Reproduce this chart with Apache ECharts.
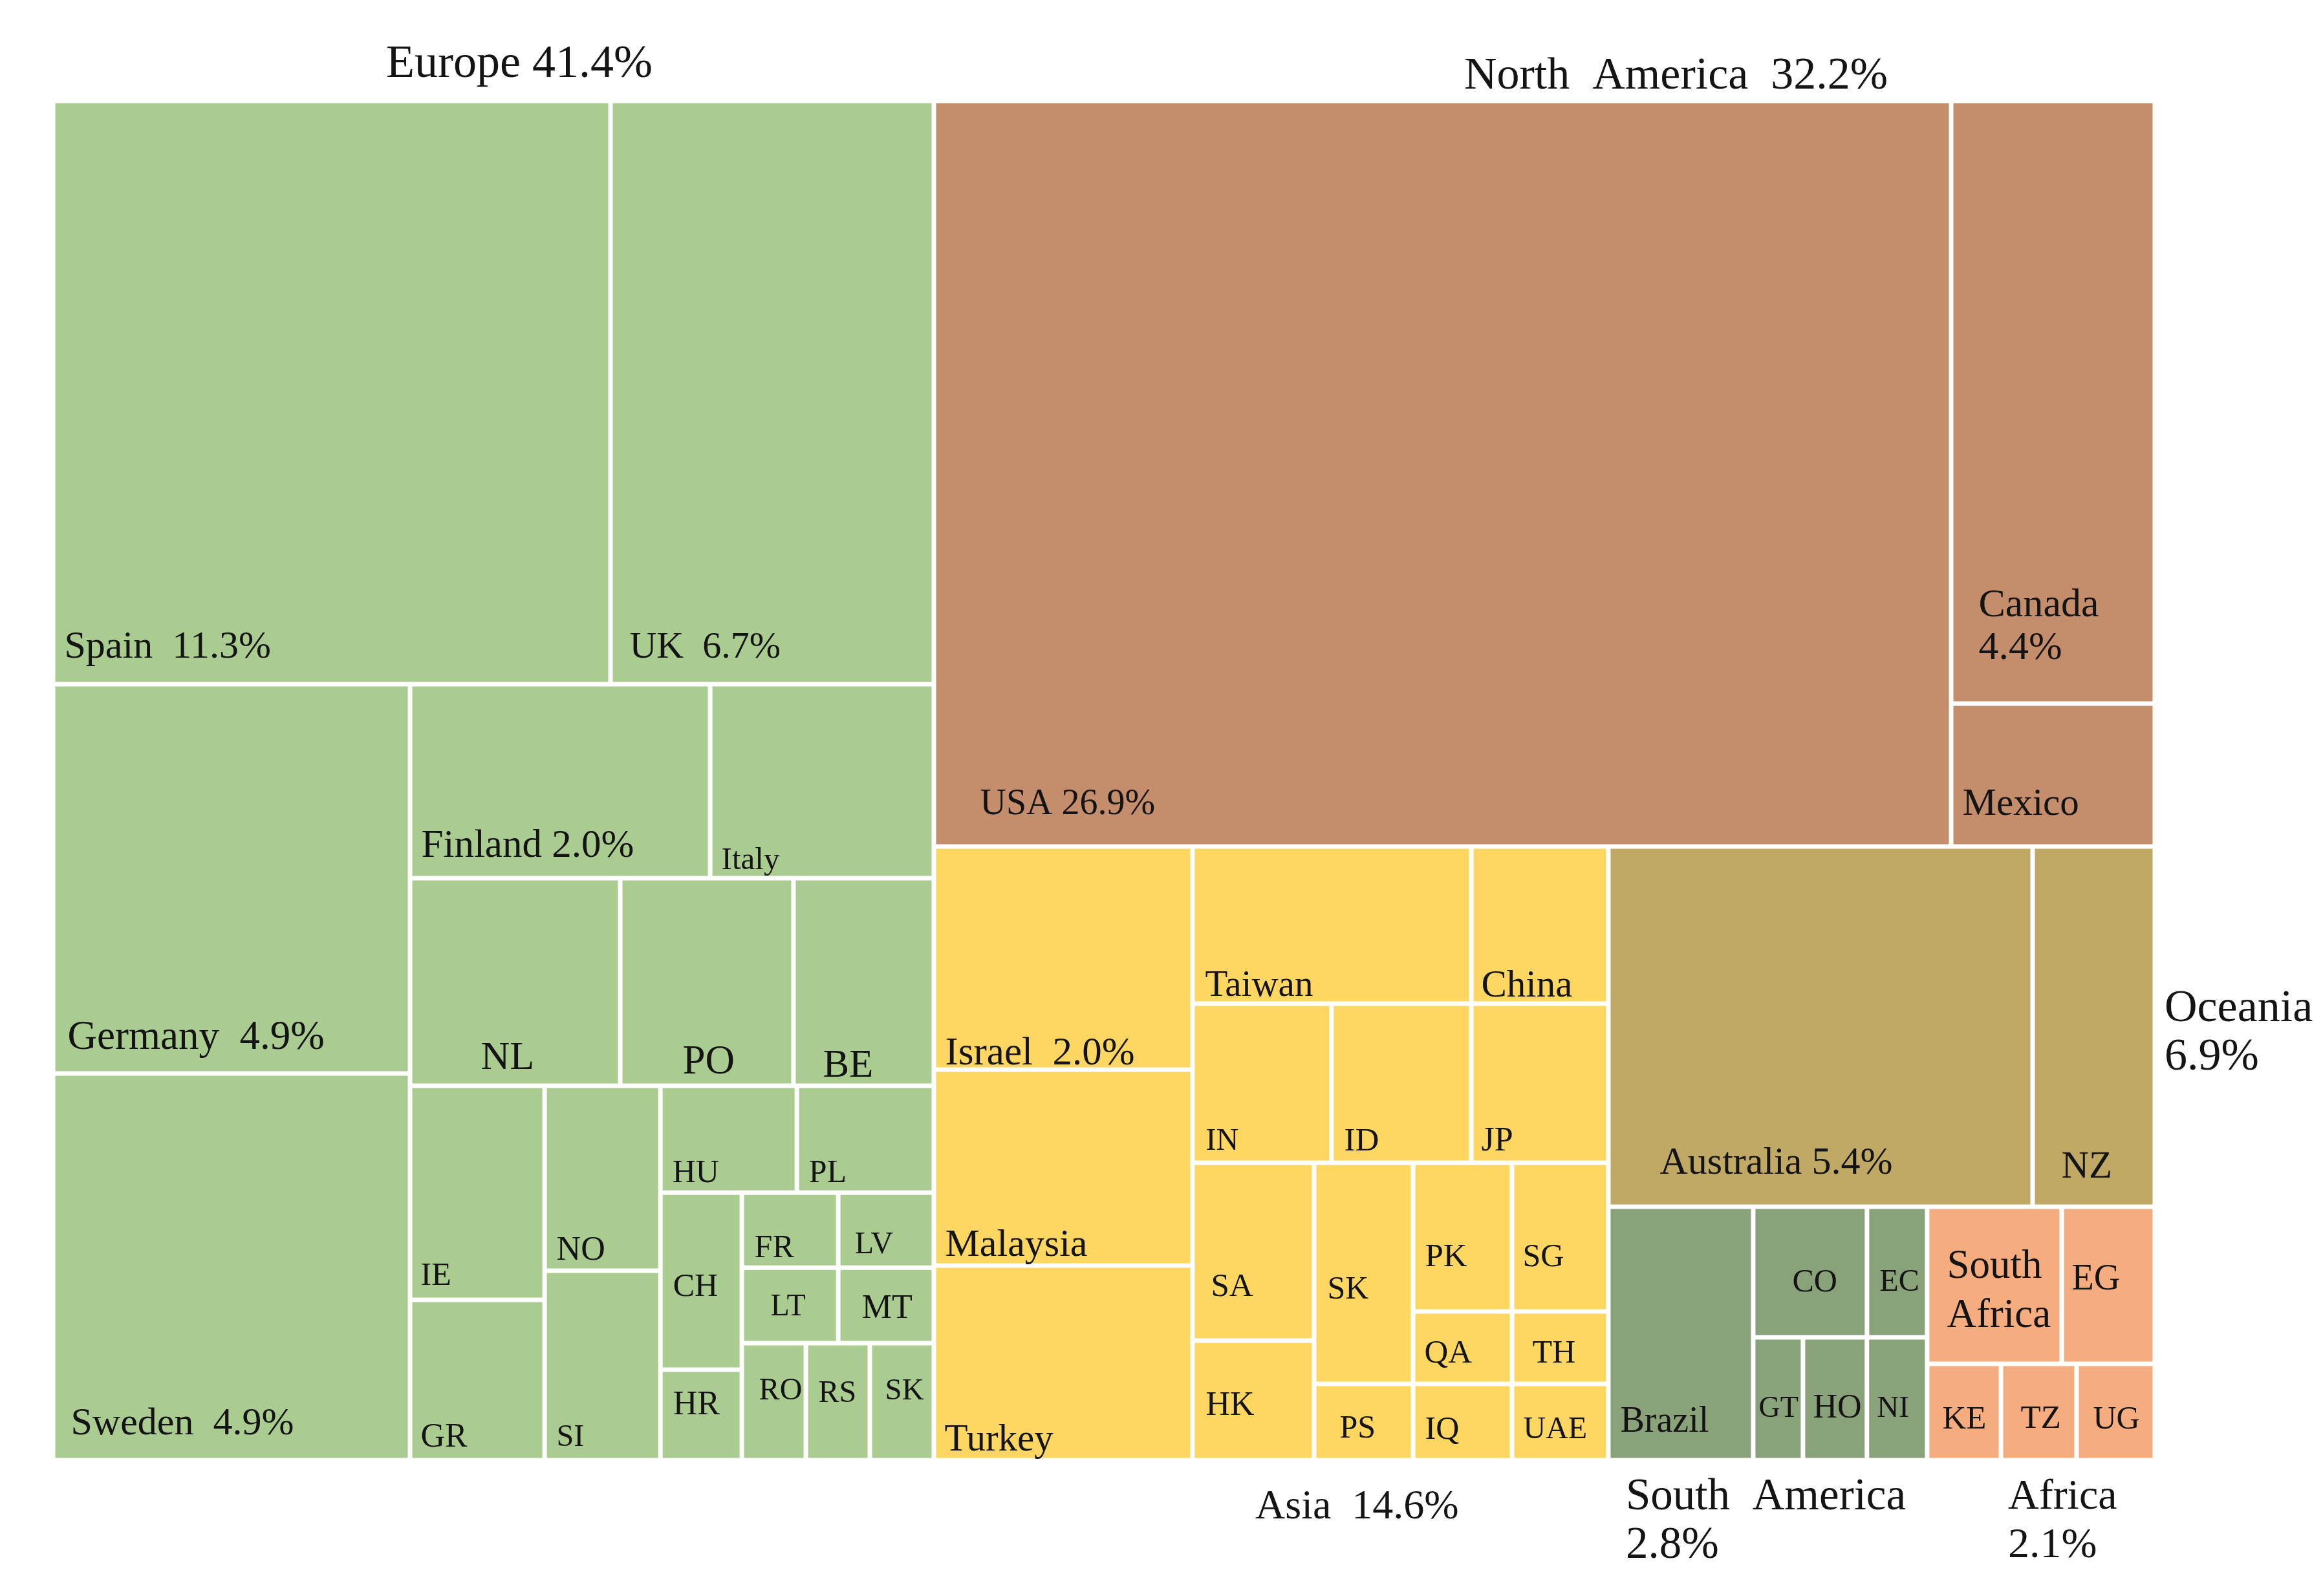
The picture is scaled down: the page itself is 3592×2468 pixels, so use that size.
<!DOCTYPE html>
<html>
<head>
<meta charset="utf-8">
<title>Treemap by continent</title>
<script src="https://cdn.jsdelivr.net/npm/echarts@6/dist/echarts.min.js"></script>
<style>
html, body { margin: 0; padding: 0; background: #fff; }
#main { width: 3592px; height: 2468px; }
</style>
</head>
<body>
<div id="main"></div>
<script>
// share of each cell (percent of the whole area)
var europeNames = ['Spain  11.3%', 'UK  6.7%', 'Germany  4.9%', 'Sweden  4.9%', 'Finland 2.0%', 'Italy', 'NL', 'PO', 'BE', 'IE', 'GR', 'NO', 'SI', 'HU', 'PL', 'CH', 'HR', 'FR', 'LV', 'LT', 'MT', 'RO', 'RS', 'SK'];
var europeValues = [11.381, 6.602, 4.864, 4.832, 2.038, 1.519, 1.527, 1.259, 1.020, 1.008, 0.755, 0.749, 0.768, 0.510, 0.512, 0.505, 0.258, 0.253, 0.251, 0.255, 0.253, 0.262, 0.262, 0.262];
var europeGroups = [[0, 1], [2, 3], [4, 5], [6, 7, 8], [9, 10], [11, 12], [13, 14], [15, 16], [17, 18], [19, 20], [21, 22, 23]];

var northAmericaNames = ['USA 26.9%', 'Canada\n4.4%', 'Mexico'];
var northAmericaValues = [26.548, 4.297, 1.019];
var northAmericaGroups = [0, [1, 2]];

var asiaNames = ['Israel  2.0%', 'Malaysia', 'Turkey', 'Taiwan', 'China', 'IN', 'ID', 'JP', 'SA', 'HK', 'SK', 'PK', 'SG', 'QA', 'TH', 'PS', 'IQ', 'UAE'];
var asiaValues = [2.020, 1.774, 1.762, 1.533, 0.754, 0.774, 0.778, 0.763, 0.757, 0.509, 0.766, 0.515, 0.502, 0.251, 0.244, 0.264, 0.264, 0.257];
var asiaGroups = [[0, 1, 2], [3, 4], [5, 6, 7], [8, 9], [[10, [11, 12], [13, 14]], [15, 16, 17]]];

var oceaniaNames = ['Australia 5.4%', 'NZ'];
var oceaniaValues = [5.349, 1.541];
var oceaniaGroups = [0, 1];

var southAmericaNames = ['Brazil', 'CO', 'EC', 'GT', 'HO', 'NI'];
var southAmericaValues = [1.285, 0.520, 0.275, 0.214, 0.275, 0.259];
var southAmericaGroups = [0, [1, 2], [3, 4, 5]];

var africaNames = ['South\nAfrica', 'EG', 'KE', 'TZ', 'UG'];
var africaValues = [0.740, 0.512, 0.249, 0.255, 0.264];
var africaGroups = [[0, 1], [2, 3, 4]];

var continentTitles = ['Europe 41.4%', 'North  America  32.2%', 'Asia  14.6%', 'Oceania\n6.9%', 'South  America\n2.8%', 'Africa\n2.1%'];

// label placement inside each cell, same order as the names above
var europeLabelAt = [[14, 842], [26, 842], [19, 544], [24, 539], [14, 247], [14, 270], [106, 275], [93, 282], [42, 287], [13, 291], [13, 210], [15, 252], [15, 255], [15, 132], [15, 132], [16, 143], [16, 52], [16, 83], [22, 78], [41, 58], [33, 61], [23, 71], [16, 75], [20, 71]];
var europeFonts = [60, 58, 63, 60, 61, 49, 62, 63, 61, 50, 52, 52, 48, 50, 50, 50, 52, 50, 48, 48, 52, 48, 48, 47];
var northAmericaLabelAt = [[68, 1085], [39, 810], [14, 153]];
var northAmericaFonts = [56, 62, 59];
var asiaLabelAt = [[14, 317], [14, 269], [13, 267], [16, 213], [12, 213], [17, 210], [16, 210], [12, 210], [25, 189], [17, 98], [17, 193], [15, 143], [13, 143], [14, 62], [28, 62], [36, 66], [15, 68], [14, 68]];
var asiaFonts = [61, 60, 59, 57, 59, 48, 51, 52, 51, 52, 50, 51, 50, 51, 50, 50, 50, 48];
var oceaniaLabelAt = [[76, 487], [41, 493]];
var oceaniaFonts = [60, 59];
var southAmericaLabelAt = [[15, 330], [57, 114], [16, 114], [5, 107], [12, 107], [12, 107]];
var southAmericaFonts = [56, 50, 48, 46, 52, 47];
var africaLabelAt = [[27, 128], [12, 110], [20, 83], [27, 82], [22, 83]];
var africaFonts = [63, 56, 51, 51, 50];
var tightLines = { 'Canada\n4.4%': 66 };

var serif = '"Liberation Serif", "Times New Roman", serif';
var ink = '#141414';

function buildContinent(name, color, names, values, groups, labelAt, fonts) {
    function toNode(item) {
        if (Array.isArray(item)) {
            return { name: '', children: item.map(toNode) };
        }
        return {
            name: names[item],
            value: values[item],
            itemStyle: { color: color, borderWidth: 3.5, borderColor: '#fff' },
            label: {
                position: labelAt[item],
                fontSize: fonts[item],
                lineHeight: tightLines[names[item]] || fonts[item] * 1.2
            }
        };
    }
    return { name: name, children: groups.map(toNode) };
}

var treeData = [
    buildContinent('Europe', '#ABCC91', europeNames, europeValues, europeGroups, europeLabelAt, europeFonts),
    buildContinent('North America', '#C48E6C', northAmericaNames, northAmericaValues, northAmericaGroups, northAmericaLabelAt, northAmericaFonts),
    buildContinent('Asia', '#FED662', asiaNames, asiaValues, asiaGroups, asiaLabelAt, asiaFonts),
    buildContinent('Oceania', '#C0A865', oceaniaNames, oceaniaValues, oceaniaGroups, oceaniaLabelAt, oceaniaFonts),
    buildContinent('South America', '#89A279', southAmericaNames, southAmericaValues, southAmericaGroups, southAmericaLabelAt, southAmericaFonts),
    buildContinent('Africa', '#F5AD80', africaNames, africaValues, africaGroups, africaLabelAt, africaFonts)
];

function titleText(text, x, y, size) {
    return {
        type: 'text',
        x: x,
        y: y,
        style: {
            text: text,
            fontFamily: serif,
            fontSize: size,
            lineHeight: 75,
            fill: ink,
            align: 'left',
            verticalAlign: 'middle'
        }
    };
}

var chart = echarts.init(document.getElementById('main'), null, { renderer: 'canvas' });
chart.setOption({
    animation: false,
    backgroundColor: '#fff',
    tooltip: { show: false },
    graphic: [
        titleText(continentTitles[0], 597, 100, 72),
        titleText(continentTitles[1], 2264, 119, 70),
        titleText(continentTitles[2], 1941, 2331, 64),
        titleText(continentTitles[3], 3347, 1598, 70),
        titleText(continentTitles[4], 2514, 2353, 69),
        titleText(continentTitles[5], 3105, 2353, 66)
    ],
    series: [{
        type: 'treemap',
        left: 82,
        top: 156,
        width: 3250,
        height: 2102,
        sort: false,
        // small ratio: every row holds one child, so cuts follow the order of the groups
        squareRatio: 0.001,
        roam: false,
        nodeClick: false,
        breadcrumb: { show: false },
        upperLabel: { show: false },
        label: {
            show: true,
            color: ink,
            fontFamily: serif,
            padding: 0,
            align: 'left',
            verticalAlign: 'middle',
            overflow: 'none'
        },
        data: treeData
    }]
});
</script>
</body>
</html>
